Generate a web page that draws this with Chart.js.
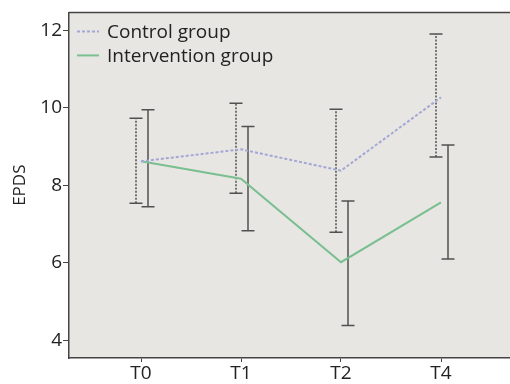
<!DOCTYPE html>
<html>
<head>
<meta charset="utf-8">
<script src="https://cdn.jsdelivr.net/npm/chart.js@4/dist/chart.umd.min.js"></script>
<style>
  html, body { margin: 0; padding: 0; background: #fff; }
  #wrap { width: 510px; height: 384px; }
</style>
</head>
<body>
<div id="wrap"><canvas id="chart"></canvas></div>
<script>
// categories and values
const categories = ['T0', 'T1', 'T2', 'T4'];
const yTicks = [4, 6, 8, 10, 12];

const controlMean = [8.62, 8.93, 8.38, 10.27];
const controlLow = [7.54, 7.80, 6.79, 8.73];
const controlHigh = [9.73, 10.12, 9.96, 11.90];

const interventionMean = [8.62, 8.17, 6.02, 7.56];
const interventionLow = [7.45, 6.83, 4.39, 6.10];
const interventionHigh = [9.95, 9.52, 7.60, 9.04];

const CONTROL_COLOR = '#a2a7d6';
const INTERVENTION_COLOR = '#79bf90';
const BAR_COLOR = '#505050';
const FONT = '"Open Sans", sans-serif';

// mean lines sit on the category, error bars are nudged left/right of it
function meanPoints(values) {
    return values.map((v, i) => ({ x: i, y: v }));
}

function errorPoints(low, high, shift) {
    const pts = [];
    low.forEach((lo, i) => {
        pts.push({ x: i + shift, y: lo }, { x: i + shift, y: high[i] }, { x: i + shift, y: null });
    });
    return pts;
}

const plotBackground = {
    id: 'plotBackground',
    beforeDraw(chart) {
        const { ctx, chartArea: a } = chart;
        ctx.save();
        ctx.fillStyle = '#e8e6e2';
        ctx.fillRect(a.left, a.top, a.right - a.left, a.bottom - a.top);
        ctx.strokeStyle = '#444';
        ctx.lineWidth = 1.5;
        ctx.beginPath();
        ctx.moveTo(a.left, a.top);
        ctx.lineTo(a.right, a.top);
        ctx.stroke();
        ctx.restore();
    }
};

const insideLegend = {
    id: 'insideLegend',
    afterDatasetsDraw(chart) {
        const { ctx, chartArea: a } = chart;
        const items = [
            { text: 'Control group', color: CONTROL_COLOR, dash: [3, 2] },
            { text: 'Intervention group', color: INTERVENTION_COLOR, dash: [] }
        ];
        ctx.save();
        ctx.font = '19px ' + FONT;
        ctx.textBaseline = 'middle';
        items.forEach((it, i) => {
            const y = a.top + 19 + i * 24;
            ctx.strokeStyle = it.color;
            ctx.lineWidth = 2;
            ctx.setLineDash(it.dash);
            ctx.beginPath();
            ctx.moveTo(a.left + 8, y);
            ctx.lineTo(a.left + 30, y);
            ctx.stroke();
            ctx.setLineDash([]);
            ctx.fillStyle = '#222';
            ctx.fillText(it.text, a.left + 38, y + 1);
        });
        ctx.restore();
    }
};

new Chart(document.getElementById('chart'), {
    type: 'line',
    data: {
        datasets: [
            {
                label: 'Control group',
                data: meanPoints(controlMean),
                borderColor: CONTROL_COLOR,
                borderWidth: 2,
                borderDash: [3, 2],
                pointRadius: 0,
                tension: 0
            },
            {
                label: 'Intervention group',
                data: meanPoints(interventionMean),
                borderColor: INTERVENTION_COLOR,
                borderWidth: 2,
                pointRadius: 0,
                tension: 0
            },
            {
                label: 'Control CI',
                data: errorPoints(controlLow, controlHigh, -0.05),
                borderColor: BAR_COLOR,
                borderWidth: 1.5,
                borderDash: [2, 1.5],
                spanGaps: false,
                pointStyle: 'line',
                pointRadius: 6.5,
                pointBorderColor: BAR_COLOR,
                pointBorderWidth: 1.5
            },
            {
                label: 'Intervention CI',
                data: errorPoints(interventionLow, interventionHigh, 0.07),
                borderColor: BAR_COLOR,
                borderWidth: 1.5,
                spanGaps: false,
                pointStyle: 'line',
                pointRadius: 6.5,
                pointBorderColor: BAR_COLOR,
                pointBorderWidth: 1.5
            }
        ]
    },
    options: {
        responsive: true,
        maintainAspectRatio: false,
        animation: false,
        layout: { autoPadding: false, padding: { top: 12, right: 0, left: 0, bottom: 0 } },
        plugins: {
            legend: { display: false },
            tooltip: { enabled: false }
        },
        scales: {
            x: {
                type: 'linear',
                min: -0.72,
                max: 3.69,
                afterBuildTicks: (axis) => { axis.ticks = categories.map((c, i) => ({ value: i })); },
                afterFit: (axis) => { axis.height = 26; },
                ticks: {
                    callback: (v) => categories[v],
                    font: { family: FONT, size: 19 },
                    color: '#222',
                    padding: 0,
                    maxRotation: 0
                },
                grid: { drawOnChartArea: false, drawTicks: true, tickLength: 4, color: '#444' },
                border: { color: '#444', width: 1.5 }
            },
            y: {
                min: 3.55,
                max: 12.46,
                afterBuildTicks: (axis) => { axis.ticks = yTicks.map(v => ({ value: v })); },
                afterFit: (axis) => { axis.width = 69; },
                ticks: {
                    font: { family: FONT, size: 19 },
                    color: '#222',
                    padding: 1
                },
                title: {
                    display: true,
                    text: 'EPDS',
                    font: { family: FONT, size: 17 },
                    color: '#222',
                    padding: { top: 10, bottom: 0 }
                },
                grid: { drawOnChartArea: false, drawTicks: true, tickLength: 6, color: '#444' },
                border: { color: '#444', width: 1.5 }
            }
        }
    },
    plugins: [plotBackground, insideLegend]
});
</script>
</body>
</html>
